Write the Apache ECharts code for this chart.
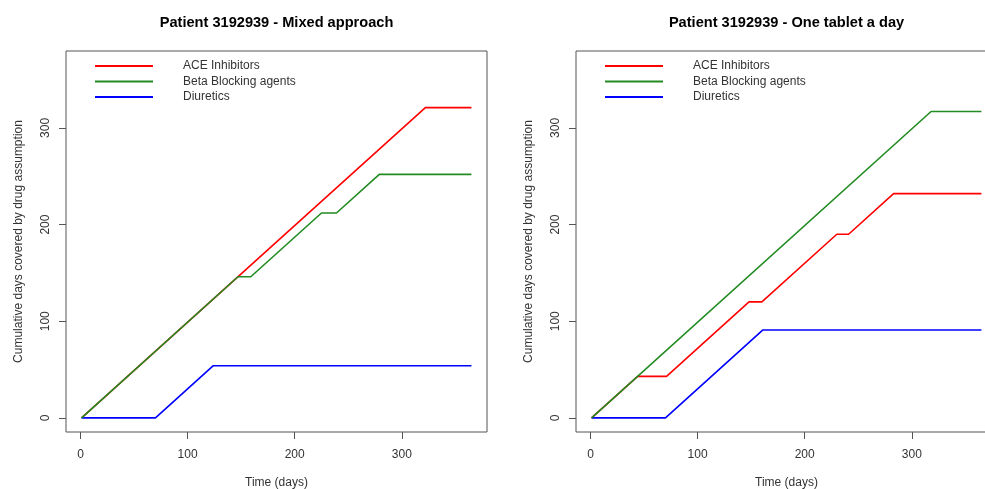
<!DOCTYPE html>
<html>
<head>
<meta charset="utf-8">
<script src="https://cdn.jsdelivr.net/npm/echarts@6/dist/echarts.min.js"></script>
<style>
  html, body { margin: 0; padding: 0; background: #fff; overflow: hidden; }
  #frame { width: 985px; height: 489px; overflow: hidden; }
  /* the right-hand panel's frame runs slightly past the page edge */
  #chart { width: 1000px; height: 489px; }
</style>
</head>
<body>
<div id="frame"><div id="chart"></div></div>
<script>
// Cumulative days covered per drug class, breakpoints as (day, cumulative days)
const drugNames = ['ACE Inhibitors', 'Beta Blocking agents', 'Diuretics'];
const drugColors = ['#ff0000', '#228b22', '#0000ff'];

// Mixed approach
const mixedAceDays = [1, 322, 365];
const mixedAceValues = [0, 321, 321];
const mixedBetaDays = [1, 147, 159, 225, 239, 279, 365];
const mixedBetaValues = [0, 146, 146, 212, 212, 252, 252];
const mixedDiurDays = [1, 70, 124, 365];
const mixedDiurValues = [0, 0, 54, 54];

// One tablet a day
const tabletAceDays = [1, 44, 71, 148, 160, 230, 241, 283, 365];
const tabletAceValues = [0, 43, 43, 120, 120, 190, 190, 232, 232];
const tabletBetaDays = [1, 318, 365];
const tabletBetaValues = [0, 317, 317];
const tabletDiurDays = [1, 70, 161, 365];
const tabletDiurValues = [0, 0, 91, 91];

const xTicks = [0, 100, 200, 300];
const yTicks = [0, 100, 200, 300];

const panelTitles = ['Patient 3192939 - Mixed approach', 'Patient 3192939 - One tablet a day'];
const xTitle = 'Time (days)';
const yTitle = 'Cumulative days covered by drug assumption';

const FONT = '"Liberation Sans", Arial, sans-serif';
const TEXT = '#333';
const FRAME = '#555';

// R-style 4% padding around the data range
const xMin = 1, xMax = 365, yMin = 0, yMax = 365;
const xPad = (xMax - xMin) * 0.04, yPad = (yMax - yMin) * 0.04;

const zip = (xs, ys) => xs.map((x, i) => [x, ys[i]]);

const panelData = [
  [zip(mixedAceDays, mixedAceValues), zip(mixedBetaDays, mixedBetaValues), zip(mixedDiurDays, mixedDiurValues)],
  [zip(tabletAceDays, tabletAceValues), zip(tabletBetaDays, tabletBetaValues), zip(tabletDiurDays, tabletDiurValues)]
];

const gridLefts = [66, 576];
const gridTop = 51, gridW = 421, gridH = 381;

const grids = gridLefts.map(l => ({
  left: l, top: gridTop, width: gridW, height: gridH,
  outerBoundsMode: 'none', containLabel: false,
  show: true, borderColor: FRAME, borderWidth: 1, backgroundColor: 'transparent'
}));

const xAxes = gridLefts.map((_, i) => ({
  type: 'value', gridIndex: i, position: 'bottom',
  min: xMin - xPad, max: xMax + xPad,
  splitLine: { show: false },
  axisLine: { show: false, onZero: false },
  axisTick: { show: true, length: 7, customValues: xTicks, lineStyle: { color: FRAME } },
  axisLabel: { customValues: xTicks, margin: 17, color: TEXT, fontSize: 12, fontFamily: FONT },
  name: xTitle, nameLocation: 'middle', nameGap: 45, nameMoveOverlap: false,
  nameTextStyle: { color: TEXT, fontSize: 12, fontFamily: FONT }
}));

const yAxes = gridLefts.map((_, i) => ({
  type: 'value', gridIndex: i, position: 'left',
  min: yMin - yPad, max: yMax + yPad,
  splitLine: { show: false },
  axisLine: { show: false, onZero: false },
  axisTick: { show: true, length: 7, customValues: yTicks, lineStyle: { color: FRAME } },
  axisLabel: { customValues: yTicks, rotate: 90, margin: 14, color: TEXT, fontSize: 12, fontFamily: FONT },
  name: yTitle, nameLocation: 'middle', nameGap: 41, nameRotate: 90, nameMoveOverlap: false,
  nameTextStyle: { color: TEXT, fontSize: 12, fontFamily: FONT }
}));

const series = [];
panelData.forEach((lines, p) => {
  lines.forEach((pts, k) => {
    series.push({
      type: 'line', name: drugNames[k],
      xAxisIndex: p, yAxisIndex: p,
      data: pts, symbol: 'none', showSymbol: false,
      color: drugColors[k],
      lineStyle: { width: 1.6, color: drugColors[k] },
      z: k === 1 ? 3 : 2,
      animation: false
    });
  });
});

const legends = gridLefts.map(l => ({
  orient: 'vertical', left: l + 29, top: 59, padding: 0,
  icon: 'rect', itemWidth: 58, itemHeight: 2, itemGap: 1.5,
  selectedMode: false,
  data: drugNames,
  textStyle: { color: TEXT, fontSize: 12, fontFamily: FONT, lineHeight: 14, padding: [0, 0, 0, 25] }
}));

const titles = gridLefts.map((l, i) => ({
  text: panelTitles[i], left: l + gridW / 2, top: 15, padding: 0, textAlign: 'center',
  textStyle: { fontSize: 14.6, fontWeight: 'bold', color: '#000', fontFamily: FONT }
}));

const chart = echarts.init(document.getElementById('chart'), null, { renderer: 'canvas' });
chart.setOption({
  backgroundColor: '#fff',
  animation: false,
  title: titles,
  legend: legends,
  grid: grids,
  xAxis: xAxes,
  yAxis: yAxes,
  series: series
});
</script>
</body>
</html>
